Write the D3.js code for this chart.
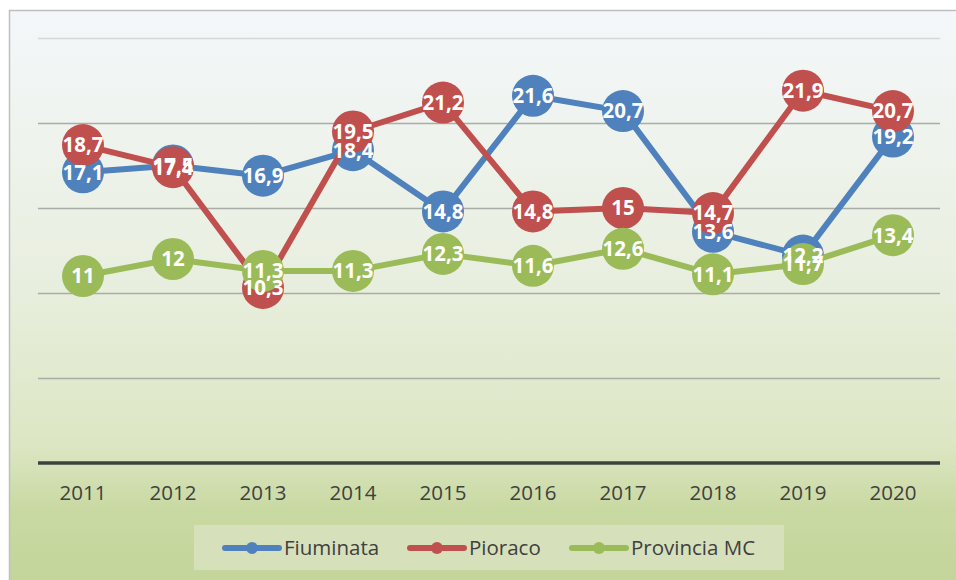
<!DOCTYPE html>
<html>
<head>
<meta charset="utf-8">
<script src="https://cdn.jsdelivr.net/npm/d3@7"></script>
<style>
  html, body { margin: 0; padding: 0; background: #fff; }
  text { font-family: "Open Sans", "DejaVu Sans", sans-serif; }
</style>
</head>
<body>
<div id="chart"></div>
<script>
const years = ["2011", "2012", "2013", "2014", "2015", "2016", "2017", "2018", "2019", "2020"];
const fiuminata = [17.1, 17.5, 16.9, 18.4, 14.8, 21.6, 20.7, 13.6, 12.2, 19.2];
const pioraco = [18.7, 17.4, 10.3, 19.5, 21.2, 14.8, 15, 14.7, 21.9, 20.7];
const provincia = [11, 12, 11.3, 11.3, 12.3, 11.6, 12.6, 11.1, 11.7, 13.4];
const gridTicks = [5, 10, 15, 20, 25];

const series = [
  { name: "Fiuminata", values: fiuminata, color: "#4f81bd" },
  { name: "Pioraco", values: pioraco, color: "#c0504d" },
  { name: "Provincia MC", values: provincia, color: "#9bbb59" },
];

const width = 956;
const height = 580;

const svg = d3
  .select("#chart")
  .append("svg")
  .attr("width", width)
  .attr("height", height);

// chart area background
const defs = svg.append("defs");
const grad = defs
  .append("linearGradient")
  .attr("id", "bg")
  .attr("x1", 0).attr("y1", 0)
  .attr("x2", 0).attr("y2", 1);
grad.append("stop").attr("offset", "0%").attr("stop-color", "#f4f7fa");
grad.append("stop").attr("offset", "45%").attr("stop-color", "#e9efe0");
grad.append("stop").attr("offset", "75%").attr("stop-color", "#dce6c3");
grad.append("stop").attr("offset", "86%").attr("stop-color", "#c9d9a2");
grad.append("stop").attr("offset", "100%").attr("stop-color", "#c3d59a");

svg
  .append("rect")
  .attr("x", 9.5)
  .attr("y", 10.5)
  .attr("width", 960)
  .attr("height", 580)
  .attr("fill", "url(#bg)")
  .attr("stroke", "#bfbfbf")
  .attr("stroke-width", 1.5);

const x = d3.scaleBand().domain(years).range([38, 938]);
const y = d3.scaleLinear().domain([0, 25]).range([463, 38]);
const cx = (i) => x(years[i]) + x.bandwidth() / 2;

// gridlines
svg
  .append("g")
  .selectAll("line")
  .data(gridTicks)
  .join("line")
  .attr("x1", 38)
  .attr("x2", 940)
  .attr("y1", (d) => Math.round(y(d)) + 0.5)
  .attr("y2", (d) => Math.round(y(d)) + 0.5)
  .attr("stroke", (d) => (d === 25 ? "#d4d8d6" : "#a9ada6"))
  .attr("stroke-width", 1.3);

// x axis
const xAxis = svg
  .append("g")
  .attr("transform", `translate(0,${y(0)})`)
  .call(d3.axisBottom(x).tickSize(0).tickPadding(22));
xAxis.select(".domain").attr("stroke", "#404040").attr("stroke-width", 3.5)
  .attr("d", "M38,0H940");
xAxis
  .selectAll("text")
  .attr("fill", "#404040")
  .style("font-size", "20.5px")
  .style("font-family", "'Open Sans', sans-serif");

const line = d3
  .line()
  .x((d, i) => cx(i))
  .y((d) => y(d));

series.forEach((s) => {
  const g = svg.append("g");
  g.append("path")
    .datum(s.values)
    .attr("d", line)
    .attr("fill", "none")
    .attr("stroke", s.color)
    .attr("stroke-width", 6)
    .attr("stroke-linejoin", "round");
  g.selectAll("circle")
    .data(s.values)
    .join("circle")
    .attr("cx", (d, i) => cx(i))
    .attr("cy", (d) => y(d))
    .attr("r", 21)
    .attr("fill", s.color);
});

// data labels on top of everything
series.forEach((s) => {
  svg
    .append("g")
    .selectAll("text")
    .data(s.values)
    .join("text")
    .attr("x", (d, i) => cx(i))
    .attr("y", (d) => y(d))
    .attr("dy", "0.36em")
    .attr("text-anchor", "middle")
    .attr("fill", "#fff")
    .attr("font-weight", "bold")
    .style("font-size", "20.5px")
    .text((d) => String(d).replace(".", ","));
});

// legend
const legend = svg.append("g");
legend
  .append("rect")
  .attr("x", 194)
  .attr("y", 525)
  .attr("width", 590)
  .attr("height", 45)
  .attr("fill", "#d6e1bc");

const legendX = [225, 410, 572];
series.forEach((s, i) => {
  const lg = legend.append("g").attr("transform", `translate(${legendX[i]},548)`);
  lg.append("line")
    .attr("x1", 0).attr("x2", 54)
    .attr("stroke", s.color)
    .attr("stroke-width", 6)
    .attr("stroke-linecap", "round");
  lg.append("circle").attr("cx", 27).attr("r", 6).attr("fill", s.color);
  lg.append("text")
    .attr("x", 59)
    .attr("dy", "0.35em")
    .attr("fill", "#404040")
    .style("font-size", "20.5px")
    .text(s.name);
});
</script>
</body>
</html>
